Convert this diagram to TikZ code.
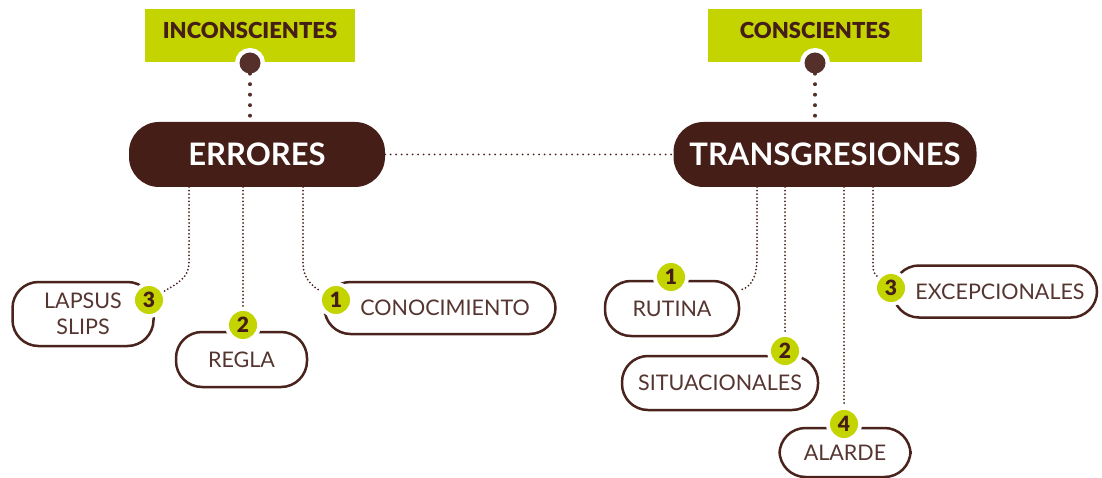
\documentclass[tikz,border=0pt]{standalone}
\usepackage{fontspec}
\setmainfont{Lato}
\newfontfamily\blackfont{Lato Black}
\usetikzlibrary{positioning}

\definecolor{darkbrown}{HTML}{451E18}
\definecolor{dotbrown}{HTML}{55302A}
\definecolor{linebrown}{HTML}{4A231D}
\definecolor{textbrown}{HTML}{553530}
\definecolor{lime}{HTML}{C3D400}

\tikzset{
  topbox/.style={fill=lime, text=darkbrown, minimum width=210, minimum height=53, inner sep=0,
    text height=16, text depth=10, font=\blackfont\fontsize{22}{22}\selectfont},
  mainbox/.style={fill=darkbrown, text=white, rounded corners=30, minimum height=65, inner sep=0,
    font=\bfseries\fontsize{31}{31}\selectfont},
  leafbox/.style={draw=linebrown, line width=2.5, rounded corners=26, text=textbrown, inner sep=0,
    align=center, font=\fontsize{21.5}{26}\selectfont},
  numbadge/.style={circle, fill=lime, text=darkbrown, minimum size=28, inner sep=0, outer sep=4,
    preaction={draw=white, line width=8}, font=\blackfont\fontsize{21}{21}\selectfont},
  dotnode/.style={circle, fill=dotbrown, minimum size=21, inner sep=0,
    preaction={draw=white, line width=9}},
  bigdots/.style={dotbrown, line width=4, line cap=round, dash pattern=on 0pt off 10.5pt},
  linkdots/.style={linebrown, line width=2, line cap=round, dash pattern=on 0pt off 5.5pt},
  childdots/.style={linebrown, line width=2, line cap=round, dash pattern=on 0pt off 3.6pt},
}

\begin{document}
\begin{tikzpicture}[x=1pt, y=1pt]

    % Fix the frame to the size of the original picture
    \useasboundingbox (0,0) rectangle (1102,-478);

    % Green labels on top, each with its dot
    \node[topbox] (LabelInc) at (250,-36) {INCONSCIENTES};
    \node[topbox, minimum width=214] (LabelCon) at (815,-36) {CONSCIENTES};
    \node[dotnode] (DotInc) at (250,-63) {};
    \node[dotnode] (DotCon) at (815,-63) {};

    % The two main boxes
    \node[mainbox, minimum width=256] (Errores) at (257,-154.5) {ERRORES};
    \node[mainbox, minimum width=303] (Trans) at (825,-154.5) {TRANSGRESIONES};

    % Dotted links between the labels and the main boxes
    \draw[bigdots] (DotInc) -- (DotInc |- Errores.north);
    \draw[bigdots] (DotCon) -- (DotCon |- Trans.north);
    \draw[linkdots] (Errores.east) -- (Trans.west);

    % Leaves under ERRORES
    \node[leafbox, minimum width=141, minimum height=64] (Lapsus) at (83,-314) {LAPSUS\\SLIPS};
    \node[leafbox, minimum width=131, minimum height=55] (Regla) at (241.5,-359.5) {REGLA};
    \node[leafbox, minimum width=231, minimum height=52] (Conoc) at (440,-308) {\hspace*{10pt}CONOCIMIENTO};

    % Leaves under TRANSGRESIONES
    \node[leafbox, minimum width=134, minimum height=55] (Rutina) at (672,-308.5) {RUTINA};
    \node[leafbox, minimum width=196, minimum height=54] (Situ) at (720,-383) {SITUACIONALES};
    \node[leafbox, minimum width=131, minimum height=49] (Alarde) at (845,-452.5) {ALARDE};
    \node[leafbox, minimum width=204, minimum height=52] (Excep) at (995,-291.5) {\hspace*{10pt}EXCEPCIONALES};

    % Numbered badges sitting on the outlines
    \node[numbadge] (NumLapsus) at (149,-300) {3};
    \node[numbadge] (NumRegla) at (243,-325) {2};
    \node[numbadge] (NumConoc) at (336,-300) {1};
    \node[numbadge] (NumRutina) at (671,-277) {1};
    \node[numbadge] (NumSitu) at (785,-351) {2};
    \node[numbadge] (NumAlarde) at (844,-424) {4};
    \node[numbadge] (NumExcep) at (891,-288) {3};

    % Start points of the dotted lines under the main boxes
    \coordinate (ErrA) at (189,-187);
    \coordinate (ErrB) at (243,-187);
    \coordinate (ErrC) at (303,-187);
    \coordinate (TrA) at (757,-187);
    \coordinate (TrB) at (785,-187);
    \coordinate (TrC) at (844,-187);
    \coordinate (TrD) at (873,-187);

    % Dotted lines down to the leaves
    \draw[childdots] (ErrA) -- ++(0,-76) to[out=-90, in=30] (NumLapsus);
    \draw[childdots] (ErrB) -- (NumRegla);
    \draw[childdots] (ErrC) -- ++(0,-76) to[out=-90, in=150] (NumConoc);
    \draw[childdots] (TrA) -- ++(0,-70) to[out=-90, in=15] (Rutina.15);
    \draw[childdots] (TrB) -- (NumSitu);
    \draw[childdots] (TrC) -- (NumAlarde);
    \draw[childdots] (TrD) -- ++(0,-76) to[out=-90, in=140] (NumExcep);

\end{tikzpicture}
\end{document}
